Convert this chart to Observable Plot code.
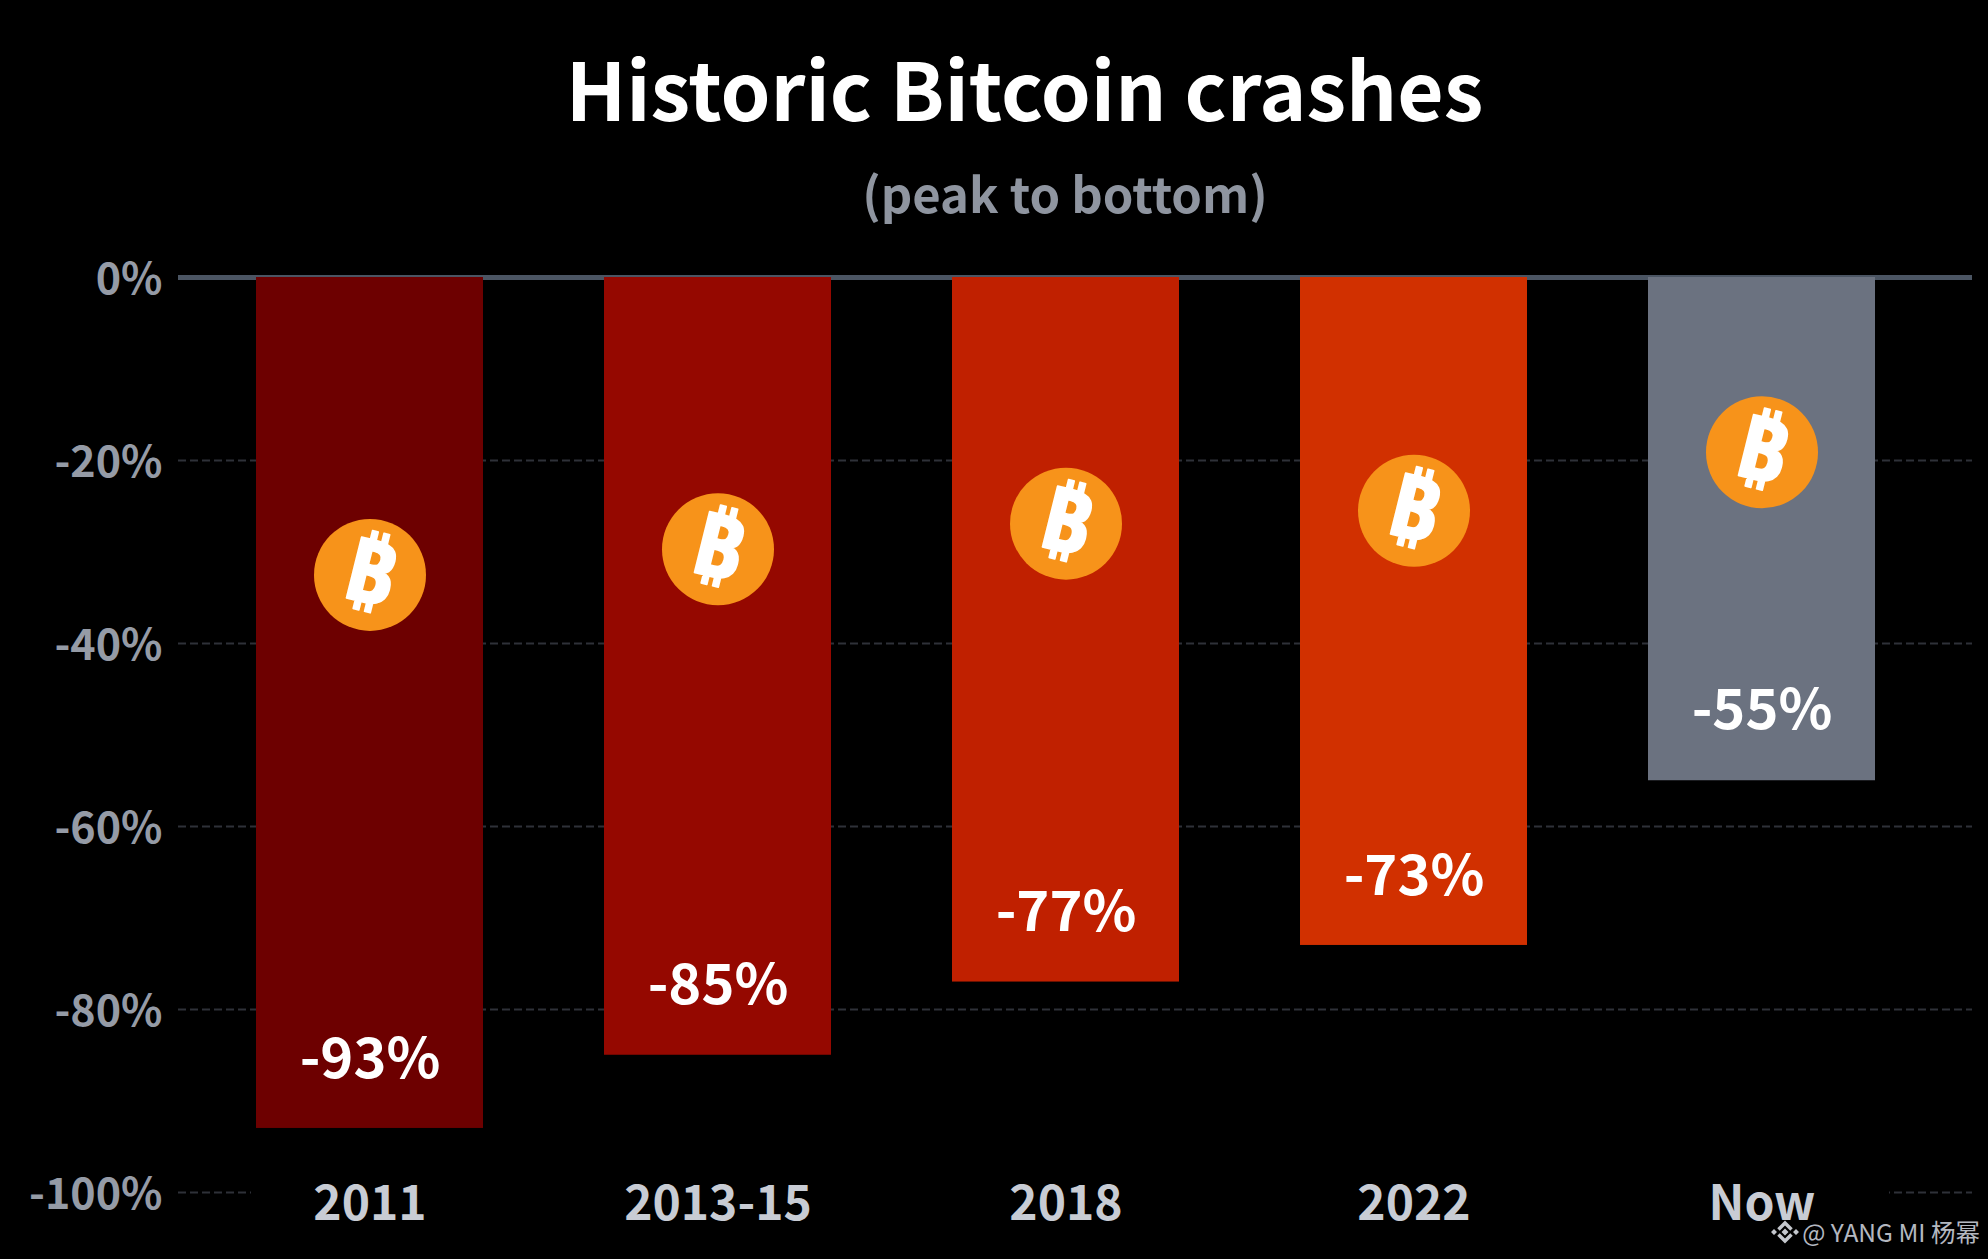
<!DOCTYPE html>
<html><head><meta charset="utf-8">
<script src="https://cdn.jsdelivr.net/npm/d3@7"></script>
<script src="https://cdn.jsdelivr.net/npm/@observablehq/plot@0.6"></script>
<style>
html,body{margin:0;padding:0;background:#000;width:1988px;height:1259px;overflow:hidden}
body{position:relative;font-family:"Noto Sans CJK SC","Noto Sans",sans-serif}
#head{height:230px;position:relative}
#title{position:absolute;left:0;width:2049px;text-align:center;top:26px;font-size:80px;line-height:120px;font-weight:700;color:#fff}
#sub{position:absolute;left:0;width:2130px;text-align:center;top:156px;font-size:49px;line-height:72px;font-weight:700;color:#8f95a0}
#mark{position:absolute;right:8px;top:1216px;font-size:24.5px;line-height:32px;color:#b4b8c0;white-space:nowrap;display:flex;align-items:center;gap:2px}
svg{display:block}
</style></head><body>
<div id="head"><div id="title">Historic Bitcoin crashes</div><div id="sub">(peak to bottom)</div></div>
<div id="chart"></div>
<div id="mark"><svg width="30" height="30" viewBox="0 0 30 30"><g fill="#c4c7cd"><path d="M15 11.500l3.500 3.500-3.500 3.500-3.500-3.500zM4 12l3 3-3 3-3-3zM26 12l3 3-3 3-3-3z"/></g><path d="M8.500 12.500L15 6l6.500 6.500M8.500 17.500L15 24l6.500-6.500" fill="none" stroke="#c4c7cd" stroke-width="3.500"/></svg><span>@ YANG MI 杨幂</span></div>
<script>
const categories = ["2011", "2013-15", "2018", "2022", "Now"];
const values = [-93, -85, -77, -73, -55];
const valueLabels = ["-93%", "-85%", "-77%", "-73%", "-55%"];
const labelLevels = [-85.5, -77.4, -69.5, -65.5, -47.4];
const logoLevels = [-32.5, -29.7, -26.9, -25.5, -19.1];
const barColors = ["#6d0000", "#950800", "#c02000", "#d13000", "#6b7280"];
const yTicks = [0, -20, -40, -60, -80, -100];
const font = '"Noto Sans CJK SC","Noto Sans",sans-serif';

const rows = categories.map((c, i) => ({
  c, value: values[i], text: valueLabels[i], labelAt: labelLevels[i], logoAt: logoLevels[i], color: barColors[i]
}));

const chart = Plot.plot({
  width: 1988,
  height: 1029,
  marginTop: 47,
  marginBottom: 67,
  marginLeft: 178,
  marginRight: 16,
  style: {background: "#000", fontFamily: font, overflow: "visible"},
  x: {type: "band", domain: categories, range: [195.6, 1935.6], paddingInner: 0.348, paddingOuter: 0.174, label: null},
  y: {domain: [-100, 0], label: null},
  color: {type: "identity"},
  marks: [
    Plot.ruleY(yTicks.filter(d => d !== 0), {stroke: "#2e3138", strokeWidth: 2, strokeDasharray: "8 4"}),
    Plot.ruleY([-100], {stroke: "#000", strokeWidth: 5, insetLeft: 73, insetRight: 83}),
    Plot.ruleY([0], {stroke: "#4b5563", strokeWidth: 5}),
    Plot.barY(rows, {x: "c", y1: 0, y2: "value", fill: "color"}),
    Plot.dot(rows, {x: "c", y: "logoAt", r: 56, fill: "#f7931a"}),
    Plot.text(rows, {x: "c", y: "logoAt", text: () => "₿", rotate: 14, fill: "#fff", stroke: "#fff", strokeWidth: 1.5, fontSize: 88, fontWeight: 700, fontFamily: "Noto Sans"}),
    Plot.text(rows, {x: "c", y: "labelAt", text: "text", fill: "#fff", fontSize: 56, fontWeight: 700}),
    Plot.axisY({ticks: yTicks, tickSize: 0, tickPadding: 16, dy: 2.5, tickFormat: d => d + "%", fontSize: 43, fontWeight: 700, color: "#959ba6", label: null}),
    Plot.axisX({tickSize: 0, tickPadding: -7, fontSize: 48, fontWeight: 700, color: "#c8ccd4", label: null})
  ]
});
document.getElementById("chart").append(chart);
</script>
</body></html>
